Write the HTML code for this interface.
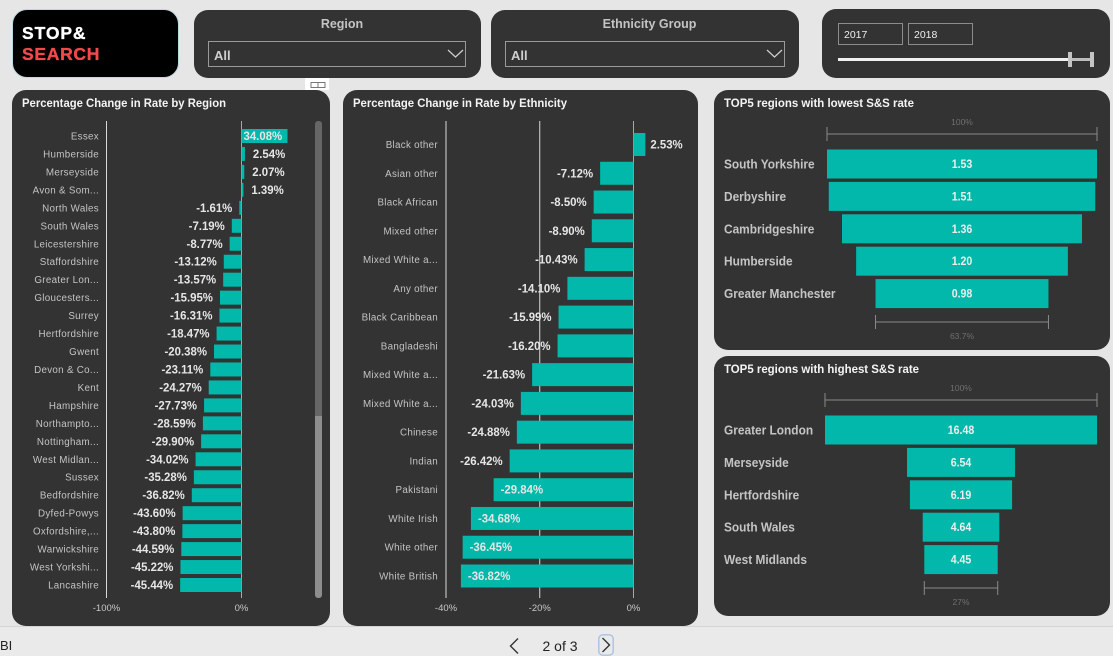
<!DOCTYPE html>
<html lang="en">
<head>
<meta charset="utf-8">
<title>Stop &amp; Search Dashboard</title>
<style>
html,body{margin:0;padding:0;width:1113px;height:656px;overflow:hidden;background:#e6e6e6;font-family:"Liberation Sans",sans-serif}
.abs{position:absolute;box-sizing:border-box}
.panel{position:absolute;background:#333;box-sizing:border-box}
.slicer-title{position:absolute;top:7px;left:9px;right:0;text-align:center;font:bold 12.5px "Liberation Sans",sans-serif;color:#c4c4c4}
.dd{position:absolute;top:31px;height:26px;border:1px solid #9a9a9a;box-sizing:border-box;color:#cfcfcf;font:bold 13px/27px "Liberation Sans",sans-serif;padding-left:5px}
.year{position:absolute;top:14px;height:22px;width:65px;border:1px solid #8c8c8c;box-sizing:border-box;color:#eee;font:10.5px/22px "Liberation Sans",sans-serif;padding-left:5px}
#chart-layer{position:absolute;left:0;top:0}
</style>
</head>
<body>
<div class="abs" style="left:0;top:626px;width:1113px;height:30px;background:#eaeaea;border-top:1px solid #d4d4d4"></div>
<div class="abs" style="left:0;top:638px;font-size:13px;line-height:16px;color:#222">BI</div>

<div class="abs" style="left:12px;top:9px;width:167px;height:69px;background:#000;border:1px solid #bcd8e0;border-radius:15px;padding:13px 0 0 9px;font:bold 17.5px/21px 'Liberation Sans',sans-serif;letter-spacing:.9px;-webkit-text-stroke:.35px currentColor">
<div style="color:#fff">STOP&amp;</div>
<div style="color:#f4494b;letter-spacing:.7px">SEARCH</div>
</div>

<div class="panel" style="left:194px;top:10px;width:287px;height:68px;border-radius:14px">
<div class="slicer-title">Region</div>
<div class="dd" style="left:14px;width:258px">All
<svg width="18" height="10" style="position:absolute;right:0;top:7px"><path d="M1 1 L8.5 8 L16 1" fill="none" stroke="#cfcfcf" stroke-width="1.2"/></svg>
</div>
</div>

<div class="panel" style="left:491px;top:10px;width:308px;height:68px;border-radius:14px">
<div class="slicer-title">Ethnicity Group</div>
<div class="dd" style="left:14px;width:280px">All
<svg width="18" height="10" style="position:absolute;right:0;top:7px"><path d="M1 1 L8.5 8 L16 1" fill="none" stroke="#cfcfcf" stroke-width="1.2"/></svg>
</div>
</div>

<div class="panel" style="left:822px;top:9px;width:288px;height:69px;border-radius:14px">
<div class="year" style="left:16px">2017</div>
<div class="year" style="left:86px">2018</div>
<div class="abs" style="left:16px;top:49px;width:232px;height:3px;background:#f0f0f0"></div>
<div class="abs" style="left:248px;top:49px;width:22px;height:3px;background:#bdbdbd"></div>
<div class="abs" style="left:246px;top:43px;width:4px;height:15px;background:#c4c4c4"></div>
<div class="abs" style="left:268px;top:43px;width:4px;height:15px;background:#c4c4c4"></div>
</div>

<div class="abs" style="left:305px;top:78px;width:24px;height:12px;background:#fff">
<svg width="24" height="12"><path d="M6 3.5h14v5H6zM13 3.5v5" fill="none" stroke="#777" stroke-width="1"/></svg>
</div>

<div class="panel" style="left:12px;top:90px;width:318px;height:536px;border-radius:14px"></div>
<div class="panel" style="left:343px;top:90px;width:355px;height:536px;border-radius:14px"></div>
<div class="panel" style="left:714px;top:90px;width:396px;height:260px;border-radius:14px"></div>
<div class="panel" style="left:714px;top:356px;width:396px;height:260px;border-radius:14px"></div>
<div class="abs" style="left:315px;top:121px;width:7px;height:295px;background:#666;border-radius:3px 3px 0 0"></div>
<div class="abs" style="left:315px;top:416px;width:7px;height:182px;background:#8e8e8e;border-radius:0 0 3px 3px"></div>

<svg id="chart-layer" width="1113" height="656" viewBox="0 0 1113 656" xmlns="http://www.w3.org/2000/svg"></svg>

<div class="abs" style="left:530px;top:637px;width:60px;text-align:center;font-size:14px;line-height:18px;color:#222">2 of 3</div>
<svg class="abs" width="14" height="18" style="left:507px;top:637px"><path d="M11 1.5 L3.5 9 L11 16.5" fill="none" stroke="#333" stroke-width="1.4"/></svg>
<svg class="abs" width="16" height="22" style="left:598px;top:634px"><rect x="0.8" y="0.8" width="14.4" height="20.4" rx="4" fill="none" stroke="#a9c2e6" stroke-width="1.4"/><path d="M4.5 4 L11.5 11 L4.5 18" fill="none" stroke="#333" stroke-width="1.4"/></svg>

<script>
var regionCategories = ["Essex","Humberside","Merseyside","Avon & Som...","North Wales","South Wales","Leicestershire","Staffordshire","Greater Lon...","Gloucesters...","Surrey","Hertfordshire","Gwent","Devon & Co...","Kent","Hampshire","Northampto...","Nottingham...","West Midlan...","Sussex","Bedfordshire","Dyfed-Powys","Oxfordshire,...","Warwickshire","West Yorkshi...","Lancashire"];
var regionValues = [34.08,2.54,2.07,1.39,-1.61,-7.19,-8.77,-13.12,-13.57,-15.95,-16.31,-18.47,-20.38,-23.11,-24.27,-27.73,-28.59,-29.90,-34.02,-35.28,-36.82,-43.60,-43.80,-44.59,-45.22,-45.44];
var regionTicks = [-100,0];
var ethnicityCategories = ["Black other","Asian other","Black African","Mixed other","Mixed White a...","Any other","Black Caribbean","Bangladeshi","Mixed White a...","Mixed White a...","Chinese","Indian","Pakistani","White Irish","White other","White British"];
var ethnicityValues = [2.53,-7.12,-8.50,-8.90,-10.43,-14.10,-15.99,-16.20,-21.63,-24.03,-24.88,-26.42,-29.84,-34.68,-36.45,-36.82];
var ethnicityTicks = [-40,-20,0];
var lowestRegions = ["South Yorkshire","Derbyshire","Cambridgeshire","Humberside","Greater Manchester"];
var lowestValues = [1.53,1.51,1.36,1.20,0.98];
var lowestPercentLabels = ["100%","63.7%"];
var highestRegions = ["Greater London","Merseyside","Hertfordshire","South Wales","West Midlands"];
var highestValues = [16.48,6.54,6.19,4.64,4.45];
var highestPercentLabels = ["100%","27%"];

var NS = "http://www.w3.org/2000/svg";
var layer = document.getElementById("chart-layer");
var TEAL = "#01b8aa";
var SANS = '"Liberation Sans",sans-serif';

function make(tag, attrs, parent, text) {
  var el = document.createElementNS(NS, tag);
  for (var k in attrs) { el.setAttribute(k, attrs[k]); }
  if (text !== undefined) { el.textContent = text; }
  parent.appendChild(el);
  return el;
}
function condense(el, factor) {
  var w = el.getComputedTextLength();
  el.setAttribute("textLength", (w * factor).toFixed(2));
  el.setAttribute("lengthAdjust", "spacingAndGlyphs");
}
function linear(d0, d1, r0, r1) {
  return function (v) { return r0 + (v - d0) * (r1 - r0) / (d1 - d0); };
}
function title(str, x, y, width) {
  var t = make("text", {x: x, y: y, fill: "#f4f4f4", "font-family": SANS, "font-weight": "bold", "font-size": 11.5, textLength: width, lengthAdjust: "spacingAndGlyphs"}, layer, str);
  
  
}

function barChart(cfg) {
  var g = make("g", {}, layer);
  
  
  var x = linear(cfg.domain[0], cfg.domain[1], cfg.range[0], cfg.range[1]);
  var y = function (i) { return cfg.firstY + i * (cfg.lastY - cfg.firstY) / (cfg.categories.length - 1); };
  cfg.ticks.forEach(function (t) {
    var line = make("line", {x1: x(t), x2: x(t), y1: cfg.axisTop, y2: cfg.axisBottom, stroke: t === 0 ? "#a8a8a8" : "#d8d8d8", "stroke-width": 1}, g);
    
    
    var label = make("text", {x: x(t), y: 611, fill: "#c8c8c8", "font-family": SANS, "font-size": 9.5, "text-anchor": "middle"}, g, t + "%");
    
    
  });
  cfg.categories.forEach(function (c, i) {
    var label = make("text", {x: cfg.labelX, y: y(i) + 3.5, fill: "#c4c4c4", "font-family": SANS, "font-size": 9.8, "letter-spacing": 0.3, "text-anchor": "end"}, g, c);
    
    
  });
  cfg.values.forEach(function (v, i) {
    var x0 = x(Math.min(v, 0)), x1 = x(Math.max(v, 0));
    var bar = make("rect", {x: x0, y: y(i) - cfg.barH / 2, width: x1 - x0, height: cfg.barH, fill: TEAL}, g);
    
    
  });
  cfg.values.forEach(function (v, i) {
    var labelW = 50, tx, anchor, inside;
    if (v >= 0) {
      inside = x(v) + labelW + 8 > cfg.plotRight;
      tx = inside ? x(0) + 2 : x(v) + cfg.posGap;
      anchor = "start";
    } else {
      inside = x(v) - labelW < cfg.range[0];
      tx = inside ? x(v) + 7 : x(v) - 7;
      anchor = inside ? "start" : "end";
    }
    var val = make("text", {x: tx, y: y(i) + 4, fill: "#e6e6e6", "font-family": SANS, "font-weight": "bold", "font-size": 12, "text-anchor": anchor}, g, v.toFixed(2) + "%");
    
    
    condense(val, 0.95);
  });
}

function bracket(g, x0, x1, y, name) {
  var grp = make("g", {stroke: "#8a8a8a", "stroke-width": 1}, g);
  
  
  make("line", {x1: x0, x2: x1, y1: y, y2: y}, grp);
  make("line", {x1: x0, x2: x0, y1: y - 7, y2: y + 7}, grp);
  make("line", {x1: x1, x2: x1, y1: y - 7, y2: y + 7}, grp);
}

function funnel(cfg) {
  var g = make("g", {}, layer);
  
  
  var max = Math.max.apply(null, cfg.values);
  var last = cfg.values[cfg.values.length - 1];
  var w = linear(0, max, 0, cfg.maxW);
  var y = function (i) { return cfg.firstY + i * cfg.pitch; };
  bracket(g, cfg.cx - w(max) / 2, cfg.cx + w(max) / 2, cfg.topLine, 'funnel-top-bracket');
  var top = make("text", {x: cfg.cx, y: cfg.topLine - 9, fill: "#6f6f6f", "font-family": SANS, "font-size": 8.5, "text-anchor": "middle"}, g, cfg.percents[0]);
  
  
  cfg.values.forEach(function (v, i) {
    var bw = w(v);
    var bar = make("rect", {x: cfg.cx - bw / 2, y: y(i) - 14.5, width: bw, height: 29, fill: TEAL}, g);
    
    
    var val = make("text", {x: cfg.cx, y: y(i) + 4, fill: "#eeeeee", "font-family": SANS, "font-weight": "bold", "font-size": 11.5, "text-anchor": "middle"}, g, v.toFixed(2));
    
    
    condense(val, 0.92);
    var cat = make("text", {x: 724, y: y(i) + 4.5, fill: "#c4c4c4", "font-family": SANS, "font-weight": "bold", "font-size": 12.5}, g, cfg.categories[i]);
    
    
    condense(cat, 0.95);
  });
  bracket(g, cfg.cx - w(last) / 2, cfg.cx + w(last) / 2, cfg.bottomLine, 'funnel-bottom-bracket');
  var bottom = make("text", {x: cfg.cx, y: cfg.bottomLine + 17, fill: "#6f6f6f", "font-family": SANS, "font-size": 8.5, "text-anchor": "middle"}, g, cfg.percents[1]);
  
  
}

title("Percentage Change in Rate by Region", 22, 107, 204);
title("Percentage Change in Rate by Ethnicity", 353, 107, 214);
title("TOP5 regions with lowest S&S rate", 724, 107, 190);
title("TOP5 regions with highest S&S rate", 724, 373, 195);

barChart({name: "region-bar-chart", categories: regionCategories, values: regionValues, ticks: regionTicks,
  domain: [-100, 0], range: [106.5, 241.5], firstY: 136, lastY: 585, barH: 14, labelX: 99,
  axisTop: 121, axisBottom: 598, plotRight: 322, posGap: 8});
barChart({name: "ethnicity-bar-chart", categories: ethnicityCategories, values: ethnicityValues, ticks: ethnicityTicks,
  domain: [-40, 0], range: [446, 633.5], firstY: 144.5, lastY: 576, barH: 23, labelX: 438,
  axisTop: 121, axisBottom: 598, plotRight: 720, posGap: 5});
funnel({name: "lowest-rate-funnel", categories: lowestRegions, values: lowestValues, percents: lowestPercentLabels, cx: 962, maxW: 270, firstY: 164, pitch: 32.4, topLine: 134, bottomLine: 322});
funnel({name: "highest-rate-funnel", categories: highestRegions, values: highestValues, percents: highestPercentLabels, cx: 961, maxW: 272, firstY: 430, pitch: 32.4, topLine: 400, bottomLine: 588});
</script>
</body>
</html>
